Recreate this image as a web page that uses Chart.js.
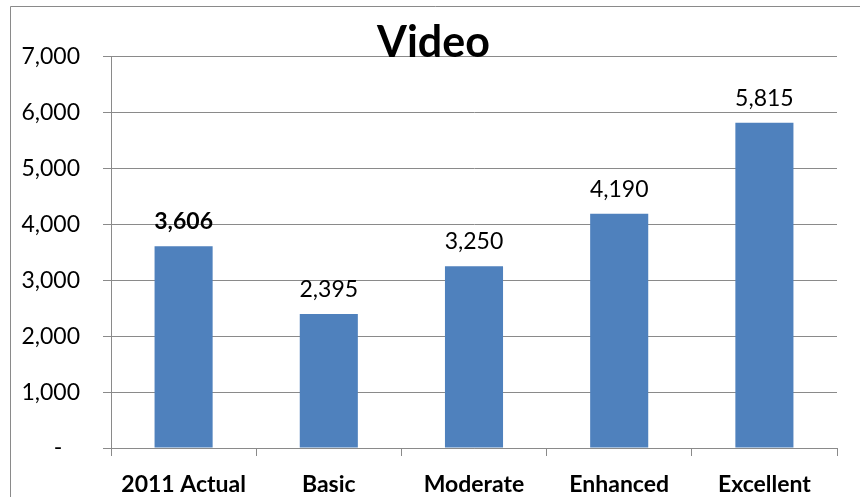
<!DOCTYPE html>
<html>
<head>
<meta charset="utf-8">
<script src="https://cdn.jsdelivr.net/npm/chart.js@4"></script>
<style>
  html, body { margin: 0; padding: 0; background: #fff; }
  #grafico { display: block; }
</style>
</head>
<body>
<canvas id="grafico" width="860" height="497"></canvas>
<script>
const categorias = ['2011 Actual', 'Basic', 'Moderate', 'Enhanced', 'Excellent'];
const valores = [3606, 2395, 3250, 4190, 5815];
const etiquetaNegrita = [true, false, false, false, false];

const gris = '#8a8a8a';
const azul = '#4f81bd';
const fuente = 'Lato, "Open Sans", sans-serif';

const formatNum = (v) => v === 0 ? '-   ' : v.toLocaleString('en-US');

// marco gris arriba e izquierda
const marco = {
    id: 'marco',
    beforeDraw(chart) {
        const ctx = chart.ctx;
        ctx.save();
        ctx.fillStyle = '#fff';
        ctx.fillRect(0, 0, chart.width, chart.height);
        ctx.strokeStyle = gris;
        ctx.lineWidth = 1;
        ctx.beginPath();
        ctx.moveTo(10.5, chart.height);
        ctx.lineTo(10.5, 6.5);
        ctx.lineTo(chart.width, 6.5);
        ctx.stroke();
        ctx.restore();
    }
};

// valores encima de cada barra
const etiquetas = {
    id: 'etiquetas',
    afterDatasetsDraw(chart) {
        const ctx = chart.ctx;
        const meta = chart.getDatasetMeta(0);
        ctx.save();
        ctx.fillStyle = '#000';
        ctx.textAlign = 'center';
        ctx.textBaseline = 'alphabetic';
        meta.data.forEach((bar, i) => {
            ctx.font = (etiquetaNegrita[i] ? 'bold ' : '') + '23px ' + fuente;
            ctx.fillText(formatNum(valores[i]), bar.x, bar.y - 17);
        });
        ctx.restore();
    }
};

const config = {
    type: 'bar',
    data: {
        labels: categorias,
        datasets: [{
            data: valores,
            backgroundColor: azul,
            barPercentage: 0.4,
            categoryPercentage: 1
        }]
    },
    options: {
        responsive: false,
        animation: false,
        layout: { padding: { left: 7, right: 0, top: 0, bottom: 0 } },
        plugins: {
            legend: { display: false },
            tooltip: { enabled: false },
            title: {
                display: true,
                text: 'Video',
                color: '#000',
                font: { family: fuente, size: 43, weight: 'bold' },
                padding: { top: 17, bottom: -12 }
            }
        },
        scales: {
            x: {
                afterFit: (scale) => { scale.height = 49; },
                grid: { drawOnChartArea: false, drawTicks: true, tickLength: 8, color: gris },
                border: { color: gris },
                ticks: {
                    color: '#000',
                    padding: 15,
                    maxRotation: 0,
                    font: { family: fuente, size: 23, weight: 'bold' }
                }
            },
            y: {
                min: 0,
                max: 7000,
                afterFit: (scale) => { scale.width = 104; },
                grid: { color: gris, tickLength: 8 },
                border: { color: gris },
                ticks: {
                    stepSize: 1000,
                    color: '#000',
                    padding: 23,
                    font: { family: fuente, size: 23 },
                    callback: (v) => formatNum(v)
                }
            },
            // eje vacío a la derecha, solo deja el margen
            margen: {
                type: 'linear',
                position: 'right',
                afterFit: (scale) => { scale.width = 23; },
                grid: { display: false },
                border: { display: false },
                ticks: { display: false }
            }
        }
    },
    plugins: [marco, etiquetas]
};

const myChart = new Chart(document.getElementById('grafico'), config);
</script>
</body>
</html>
